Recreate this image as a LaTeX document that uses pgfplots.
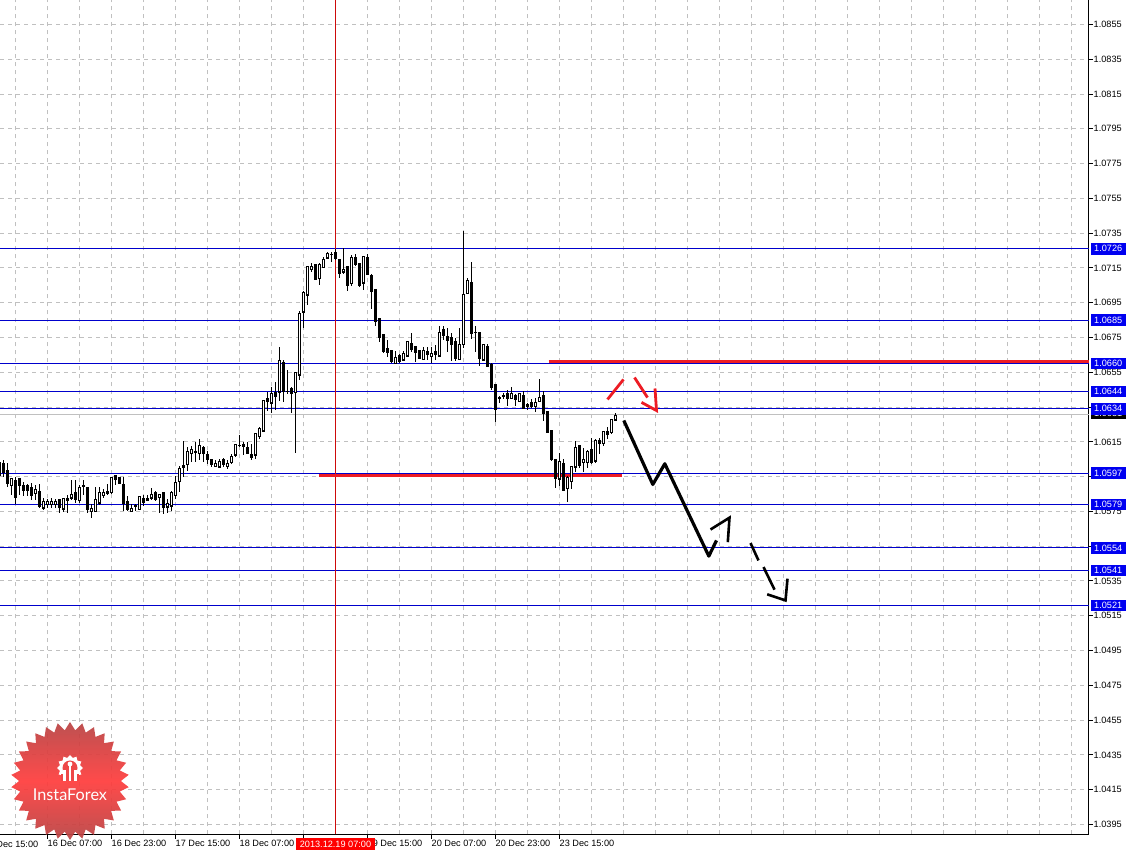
\documentclass[border=0pt]{standalone}
\usepackage{pgfplots}
\pgfplotsset{compat=1.18}
\usepackage{pgfplotstable}
\usepackage{fontspec}
\setmainfont{Liberation Sans}
\newfontfamily\logofont{Lato}
\usetikzlibrary{shapes.geometric}
\definecolor{lvl}{HTML}{0000CC}
\definecolor{lab}{HTML}{0000F0}
\definecolor{rd}{HTML}{ED1C24}
\definecolor{gr}{HTML}{C0C0C0}
\definecolor{cross}{HTML}{CD0A0A}
\definecolor{logoedge}{HTML}{B84444}
\definecolor{logomid}{HTML}{FF3C3C}
\definecolor{logogear}{HTML}{EE4848}
\pgfplotstableread{
x o h l c
-1 1.06033 1.06033 1.05928 1.05957
3 1.06028 1.06047 1.05947 1.05972
7 1.05985 1.06028 1.05893 1.05909
11 1.05899 1.05938 1.05842 1.05938
15 1.05928 1.05947 1.05790 1.05828
19 1.05938 1.05943 1.05847 1.05899
23 1.05899 1.05918 1.05836 1.05870
27 1.05897 1.05909 1.05836 1.05870
31 1.05886 1.05913 1.05817 1.05842
35 1.05855 1.05899 1.05813 1.05874
39 1.05865 1.05909 1.05771 1.05778
43 1.05771 1.05828 1.05759 1.05805
47 1.05790 1.05822 1.05771 1.05805
51 1.05790 1.05828 1.05771 1.05805
55 1.05790 1.05821 1.05771 1.05805
59 1.05817 1.05821 1.05740 1.05775
63 1.05765 1.05824 1.05744 1.05822
67 1.05822 1.05842 1.05740 1.05813
71 1.05828 1.05928 1.05813 1.05847
75 1.05859 1.05928 1.05798 1.05821
79 1.05813 1.05899 1.05801 1.05888
83 1.05897 1.05928 1.05847 1.05893
87 1.05888 1.05890 1.05740 1.05763
91 1.05752 1.05794 1.05711 1.05767
95 1.05752 1.05893 1.05746 1.05817
99 1.05801 1.05890 1.05784 1.05859
103 1.05842 1.05880 1.05828 1.05859
107 1.05865 1.05909 1.05842 1.05855
111 1.05859 1.05947 1.05851 1.05943
115 1.05955 1.05957 1.05899 1.05934
119 1.05943 1.05947 1.05909 1.05913
123 1.05905 1.05947 1.05752 1.05794
127 1.05807 1.05836 1.05752 1.05763
131 1.05752 1.05794 1.05752 1.05767
135 1.05782 1.05794 1.05755 1.05778
139 1.05763 1.05836 1.05759 1.05834
143 1.05824 1.05842 1.05782 1.05801
147 1.05824 1.05842 1.05813 1.05815
151 1.05828 1.05886 1.05813 1.05845
155 1.05857 1.05870 1.05809 1.05821
159 1.05830 1.05847 1.05740 1.05845
163 1.05859 1.05861 1.05736 1.05775
167 1.05778 1.05822 1.05740 1.05794
171 1.05782 1.05867 1.05752 1.05859
175 1.05844 1.05951 1.05821 1.05916
179 1.05924 1.06012 1.05861 1.05995
183 1.06014 1.06154 1.05947 1.06003
187 1.06020 1.06119 1.05985 1.06093
191 1.06085 1.06129 1.06033 1.06104
195 1.06093 1.06148 1.06033 1.06091
199 1.06085 1.06167 1.06043 1.06127
203 1.06116 1.06129 1.06033 1.06085
207 1.06077 1.06096 1.06024 1.06050
211 1.06049 1.06052 1.06004 1.06020
215 1.06010 1.06047 1.06008 1.06024
219 1.06008 1.06052 1.06004 1.06037
223 1.06047 1.06058 1.06004 1.06020
227 1.06010 1.06043 1.05995 1.06024
231 1.06033 1.06081 1.06024 1.06066
235 1.06075 1.06139 1.06062 1.06133
239 1.06131 1.06187 1.06123 1.06129
243 1.06135 1.06148 1.06072 1.06125
247 1.06116 1.06148 1.06081 1.06085
251 1.06077 1.06135 1.06047 1.06062
255 1.06075 1.06200 1.06050 1.06196
259 1.06183 1.06234 1.06167 1.06225
263 1.06213 1.06388 1.06211 1.06386
267 1.06397 1.06436 1.06330 1.06384
271 1.06374 1.06465 1.06315 1.06426
275 1.06436 1.06497 1.06334 1.06413
279 1.06438 1.06698 1.06384 1.06616
283 1.06604 1.06618 1.06380 1.06440
287 1.06440 1.06564 1.06426 1.06438
291 1.06455 1.06468 1.06315 1.06426
295 1.06436 1.06547 1.06085 1.06547
299 1.06535 1.06900 1.06507 1.06886
303 1.06898 1.07020 1.06804 1.07007
307 1.06995 1.07158 1.06938 1.07157
311 1.07143 1.07178 1.07126 1.07157
315 1.07168 1.07170 1.07078 1.07086
319 1.07091 1.07178 1.07053 1.07170
323 1.07155 1.07212 1.07151 1.07197
327 1.07208 1.07239 1.07204 1.07235
331 1.07228 1.07241 1.07183 1.07226
335 1.07237 1.07258 1.07193 1.07204
339 1.07197 1.07201 1.07093 1.07116
343 1.07128 1.07266 1.07116 1.07143
347 1.07157 1.07158 1.07020 1.07051
351 1.07063 1.07222 1.07049 1.07208
355 1.07212 1.07228 1.07162 1.07168
359 1.07176 1.07176 1.07043 1.07051
363 1.07065 1.07216 1.07024 1.07214
367 1.07208 1.07228 1.07110 1.07112
371 1.07107 1.07116 1.06915 1.07016
375 1.07026 1.07030 1.06819 1.06842
379 1.06857 1.06863 1.06723 1.06752
383 1.06765 1.06765 1.06662 1.06669
387 1.06685 1.06738 1.06637 1.06666
391 1.06673 1.06675 1.06604 1.06612
395 1.06602 1.06673 1.06598 1.06633
399 1.06644 1.06656 1.06602 1.06612
403 1.06623 1.06673 1.06621 1.06658
407 1.06644 1.06729 1.06643 1.06725
411 1.06713 1.06777 1.06666 1.06681
415 1.06696 1.06700 1.06612 1.06666
419 1.06673 1.06675 1.06627 1.06631
423 1.06625 1.06694 1.06621 1.06673
427 1.06667 1.06694 1.06623 1.06652
431 1.06643 1.06694 1.06602 1.06656
435 1.06667 1.06708 1.06623 1.06652
439 1.06644 1.06819 1.06643 1.06780
443 1.06794 1.06819 1.06733 1.06763
447 1.06754 1.06805 1.06666 1.06733
451 1.06748 1.06777 1.06614 1.06712
455 1.06725 1.06748 1.06614 1.06629
459 1.06625 1.06805 1.06621 1.06708
463 1.06712 1.07365 1.06690 1.06995
467 1.07005 1.07093 1.07001 1.07076
471 1.07064 1.07187 1.06742 1.06775
475 1.06780 1.06819 1.06669 1.06779
479 1.06777 1.06780 1.06585 1.06631
483 1.06623 1.06715 1.06618 1.06710
487 1.06696 1.06713 1.06583 1.06585
491 1.06593 1.06604 1.06451 1.06464
495 1.06478 1.06480 1.06263 1.06334
499 1.06407 1.06416 1.06372 1.06397
503 1.06414 1.06430 1.06397 1.06412
507 1.06426 1.06449 1.06355 1.06397
511 1.06401 1.06468 1.06397 1.06426
515 1.06414 1.06426 1.06359 1.06393
519 1.06384 1.06426 1.06382 1.06426
523 1.06414 1.06445 1.06340 1.06343
527 1.06366 1.06374 1.06334 1.06355
531 1.06374 1.06397 1.06343 1.06351
535 1.06355 1.06403 1.06320 1.06374
539 1.06384 1.06512 1.06382 1.06403
543 1.06414 1.06445 1.06272 1.06315
547 1.06322 1.06326 1.06203 1.06205
551 1.06215 1.06219 1.06042 1.06046
555 1.06046 1.06048 1.05883 1.05937
559 1.05937 1.06086 1.05895 1.06035
563 1.06023 1.06052 1.05870 1.05870
567 1.05883 1.05956 1.05803 1.05943
571 1.05924 1.06014 1.05880 1.06006
575 1.06006 1.06157 1.05979 1.06115
579 1.06129 1.06131 1.05998 1.06017
583 1.06033 1.06115 1.05975 1.06046
587 1.06033 1.06104 1.05998 1.06094
591 1.06106 1.06171 1.06023 1.06031
595 1.06042 1.06167 1.06027 1.06157
599 1.06157 1.06171 1.06081 1.06142
603 1.06142 1.06215 1.06129 1.06211
607 1.06207 1.06234 1.06167 1.06192
611 1.06205 1.06276 1.06196 1.06276
615 1.06278 1.06317 1.06272 1.06303
}\bars
\newcommand{\tf}{\fontsize{9.2}{11}\selectfont}
\begin{document}
\begin{tikzpicture}
\useasboundingbox (0,0) rectangle (1139bp,852bp);
\begin{axis}[
  at={(0bp,17.5bp)}, anchor=south west,
  scale only axis, width=1088.5bp, height=834.5bp,
  xmin=-0.5, xmax=1088, ymin=1.03892, ymax=1.08691,
  clip=false,
  axis x line=bottom, axis y line=right,
  axis line style={-, black, line width=1bp},
  tick align=outside, major tick length=4bp, minor tick length=0pt,
  tick style={black, line width=1bp},
  xtick={47,111,175,239,303,367,431,495,559},
  xticklabels={16 Dec 07:00,16 Dec 23:00,17 Dec 15:00,18 Dec 07:00,18 Dec 23:00,19 Dec 15:00,20 Dec 07:00,20 Dec 23:00,23 Dec 15:00},
  minor xtick={15,47,...,1071},
  ytick={1.0855,1.0835,1.0815,1.0795,1.0775,1.0755,1.0735,1.0715,1.0695,1.0675,1.0655,1.0635,1.0615,1.0595,1.0575,1.0555,1.0535,1.0515,1.0495,1.0475,1.0455,1.0435,1.0415,1.0395},
  yticklabels={1.0855,1.0835,1.0815,1.0795,1.0775,1.0755,1.0735,1.0715,1.0695,1.0675,1.0655,1.0635,1.0615,1.0595,1.0575,1.0555,1.0535,1.0515,1.0495,1.0475,1.0455,1.0435,1.0415,1.0395},
  xticklabel style={font=\tf, anchor=north west, inner sep=0pt, yshift=-1bp},
  yticklabel style={font=\tf, anchor=west, inner sep=0pt, xshift=1bp},
  xmajorgrids=false, xminorgrids=true, ymajorgrids=true,
  grid style={gr, line width=1bp, dash pattern=on 4bp off 4bp},
  minor grid style={gr, line width=1bp, dash pattern=on 4bp off 4bp},
]
% levels
\addplot[gr, line width=1bp, forget plot] coordinates {(-0.5,1.06307)(1088,1.06307)};
\foreach \p in {1.0726,1.0685,1.0660,1.0644,1.0634,1.0597,1.0579,1.0554,1.0541,1.0521}{
  \edef\tmp{\noexpand\addplot[lvl, line width=1bp, forget plot] coordinates {(-0.5,\p)(1088,\p)};}\tmp
}
\addplot[cross, line width=1bp, forget plot] coordinates {(335,1.03892)(335,1.08691)};
\addplot[rd, line width=3.5bp, forget plot] coordinates {(548,1.06612)(1088,1.06612)};
\addplot[rd, line width=3.5bp, forget plot] coordinates {(318,1.05957)(621,1.05957)};
% wicks
\addplot[draw=none, mark=none, forget plot, error bars/.cd, y dir=both, y explicit, error mark=none,
  error bar style={black, solid, line width=1bp}]
  table[x=x, y=o, y error plus expr=\thisrow{h}-\thisrow{o}, y error minus expr=\thisrow{o}-\thisrow{l}] {\bars};
% bodies
\addplot[draw=none, mark=none, forget plot, error bars/.cd, y dir=both, y explicit, error mark=none,
  error bar style={black, solid, line width=3bp}]
  table[x=x, y=o, y error plus expr={max(\thisrow{c}-\thisrow{o},0)+0.00003}, y error minus expr={max(\thisrow{o}-\thisrow{c},0)+0.00003}] {\bars};
\addplot[draw=none, mark=none, forget plot, error bars/.cd, y dir=plus, y explicit, error mark=none,
  error bar style={white, solid, line width=1bp}]
  table[x=x, y expr=\thisrow{o}+0.00003, y error plus expr={max(\thisrow{c}-\thisrow{o}-0.00006,0)}] {\bars};
% hand-drawn arrows
\addplot[black, line width=3.2bp, line join=round, forget plot] coordinates {(623.3,1.06273)(652.3,1.05905)(664.3,1.06024)(708.3,1.05493)(716,1.05583)};
\addplot[black, line width=2.6bp, forget plot] coordinates {(710,1.05646)(729,1.05714)(727.3,1.05573)};
\addplot[black, line width=2.6bp, forget plot] coordinates {(750,1.05568)(758,1.05468)};
\addplot[black, line width=2.6bp, forget plot] coordinates {(763,1.0543)(774,1.0530)};
\addplot[black, line width=2.6bp, forget plot] coordinates {(766.7,1.05273)(785,1.05238)(787,1.05363)};
\addplot[rd, line width=2.8bp, forget plot] coordinates {(607,1.06394)(623,1.06509)};
\addplot[rd, line width=2.8bp, forget plot] coordinates {(634,1.0652)(647,1.06405)};
\addplot[rd, line width=2.8bp, forget plot] coordinates {(641,1.06377)(656,1.0633)(654.5,1.06457)};
% price labels
\tikzset{pl/.style={anchor=west, inner sep=0pt, minimum width=35bp, minimum height=11.5bp, text=white, font=\tf}}
\node[pl, fill=black] at (axis cs:1090,1.06313) {1.0631};
\node[pl, fill=lab] at (axis cs:1090,1.0726) {1.0726};
\node[pl, fill=lab] at (axis cs:1090,1.0685) {1.0685};
\node[pl, fill=lab] at (axis cs:1090,1.0660) {1.0660};
\node[pl, fill=lab] at (axis cs:1090,1.0644) {1.0644};
\node[pl, fill=lab] at (axis cs:1090,1.0634) {1.0634};
\node[pl, fill=lab] at (axis cs:1090,1.0597) {1.0597};
\node[pl, fill=lab] at (axis cs:1090,1.0579) {1.0579};
\node[pl, fill=lab] at (axis cs:1090,1.0554) {1.0554};
\node[pl, fill=lab] at (axis cs:1090,1.0541) {1.0541};
\node[pl, fill=lab] at (axis cs:1090,1.0521) {1.0521};
% time labels
\node[anchor=west, inner sep=0pt, font=\tf] at (axis cs:-17,1.03838) {15 Dec 15:00};
\node[anchor=center, inner sep=0pt, fill=red, text=white, font=\tf, minimum width=79bp, minimum height=11.5bp] at (axis cs:335,1.03838) {2013.12.19 07:00};
\end{axis}
% logo
\node[star, star points=30, star point ratio=1.16, minimum size=118bp, inner sep=0pt, draw=none,
  top color=logoedge, bottom color=logoedge, middle color=logomid, fill opacity=.93] at (70bp,71bp) {};
\node[star, star points=12, star point ratio=1.25, minimum size=26bp, inner sep=0pt, fill=white] at (70bp,84bp) {};
\fill[logogear] (70bp,84bp) circle (7.5bp);
\fill[logogear] (61bp,71bp) rectangle (79bp,78bp);
\fill[white] (70bp,88bp) circle (2.4bp);
\fill[white] (69bp,71bp) rectangle (71bp,87bp);
\fill[white] (63bp,71bp) rectangle (66bp,82bp);
\fill[white] (74bp,71bp) rectangle (77bp,82bp);
\node[text=white, inner sep=0pt, font=\logofont\fontsize{16.3}{18}\selectfont] at (70bp,57.5bp) {InstaForex};
\end{tikzpicture}
\end{document}
